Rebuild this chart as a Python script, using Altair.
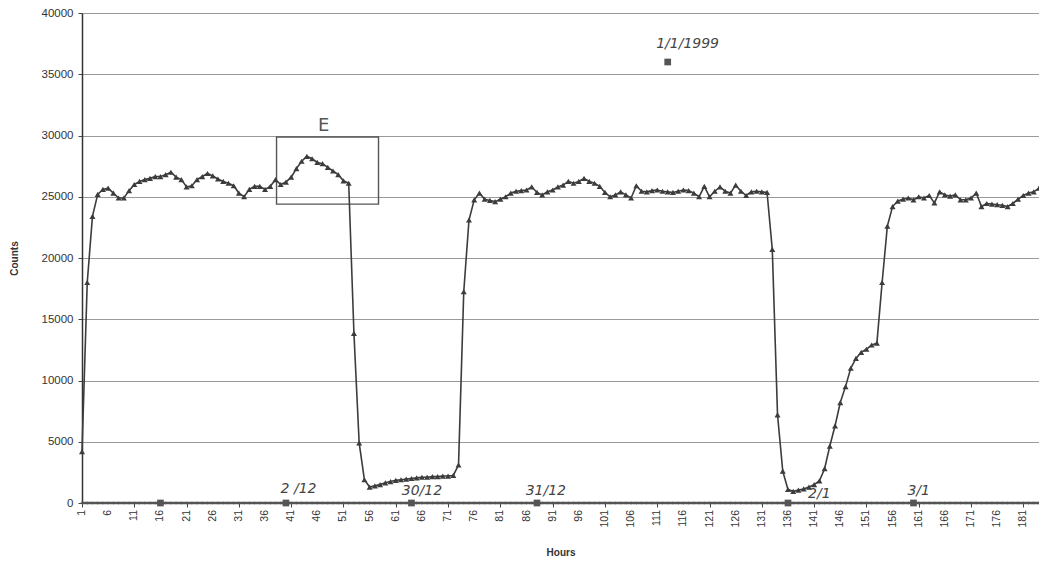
import altair as alt
import pandas as pd

# ---- data ----
hours = list(range(1, 185))
counts = [
    4200, 18000, 23400, 25200, 25600, 25700, 25300, 24900, 24900, 25500,   # 1-10
    26000, 26250, 26400, 26500, 26650, 26650, 26800, 27000, 26600, 26400,  # 11-20
    25800, 25900, 26400, 26650, 26900, 26700, 26450, 26250, 26100, 25900,  # 21-30
    25300, 25000, 25600, 25850, 25850, 25600, 25850, 26400, 26000, 26200,  # 31-40
    26600, 27300, 27900, 28300, 28100, 27800, 27700, 27400, 27100, 26800,  # 41-50
    26300, 26100, 13850, 4900, 1900, 1300, 1400, 1500, 1650, 1750,        # 51-60
    1850, 1900, 1950, 2000, 2050, 2100, 2100, 2150, 2150, 2200,            # 61-70
    2200, 2250, 3100, 17250, 23100, 24750, 25300, 24800, 24700, 24600,     # 71-80
    24800, 25000, 25300, 25450, 25500, 25550, 25800, 25350, 25150, 25400,  # 81-90
    25550, 25800, 25950, 26250, 26100, 26250, 26500, 26250, 26100, 25850,  # 91-100
    25350, 25000, 25150, 25400, 25150, 24900, 25900, 25450, 25400, 25500,  # 101-110
    25550, 25450, 25400, 25350, 25450, 25550, 25500, 25300, 25000, 25850,  # 111-120
    25000, 25450, 25800, 25450, 25300, 25950, 25450, 25100, 25400, 25450,  # 121-130
    25400, 25350, 20700, 7200, 2600, 1100, 950, 1050, 1150, 1300,          # 131-140
    1500, 1800, 2800, 4650, 6300, 8200, 9500, 11000, 11800, 12300,         # 141-150
    12550, 12900, 13050, 18000, 22600, 24200, 24650, 24800, 24900, 24750,  # 151-160
    25000, 24900, 25100, 24500, 25400, 25150, 25050, 25150, 24750, 24750,  # 161-170
    24900, 25300, 24200, 24450, 24400, 24350, 24300, 24200, 24450, 24800,  # 171-180
    25100, 25300, 25400, 25700,                                            # 181-184
]
tick_hours = list(range(1, 182, 5))
tick_labels = [str(h) for h in tick_hours]
y_ticks = [0, 5000, 10000, 15000, 20000, 25000, 30000, 35000, 40000]

day_hours = [16, 40, 64, 88, 113, 136, 160]
day_values = [0, 0, 0, 0, 36000, 0, 0]

note_text = ["2 /12", "30/12", "31/12", "1/1/1999", "2/1", "3/1"]
note_hour = [42.4, 66, 89.7, 116.8, 142, 161]
note_value = [1150, 1000, 1000, 37500, 700, 1000]

box_h1, box_h2 = [38.2], [57.7]
box_v1, box_v2 = [24400], [29880]
e_text, e_hour, e_value = ["E"], [47.2], [30800]

# ---- tables ----
main_df = pd.DataFrame({"Hours": hours, "Counts": counts})
zero_df = pd.DataFrame({"Hours": hours, "Counts": [0] * len(hours)})
day_df = pd.DataFrame({"Hours": day_hours, "Counts": day_values})
note_df = pd.DataFrame({"t": note_text, "Hours": note_hour, "Counts": note_value})
box_df = pd.DataFrame({"h1": box_h1, "h2": box_h2, "v1": box_v1, "v2": box_v2})
e_df = pd.DataFrame({"t": e_text, "Hours": e_hour, "Counts": e_value})
tick_df = pd.DataFrame({"Hours": tick_hours, "lab": tick_labels})

xscale = alt.Scale(domain=[1, 184], nice=False, zero=False)
yscale = alt.Scale(domain=[0, 40000], nice=False)

x_enc = alt.X("Hours:Q", scale=xscale,
              axis=alt.Axis(values=tick_hours, labels=False, title="Hours",
                            grid=False,
                            titleFontSize=10, titleFontWeight="bold",
                            titleColor="#333", tickColor="#444",
                            domainColor="#333", tickSize=4, titlePadding=40,
                            titleFont="Liberation Sans"))
y_enc = alt.Y("Counts:Q", scale=yscale,
              axis=alt.Axis(values=y_ticks, format="d", title="Counts",
                            grid=True, gridColor="#9a9a9a", gridWidth=1,
                            labelFontSize=11.5, labelColor="#333",
                            labelFlush=False,
                            titleFontSize=10, titleFontWeight="bold",
                            titleColor="#333", tickColor="#444",
                            domainColor="#333", domainWidth=1.5, tickSize=4,
                            labelPadding=5, titlePadding=22,
                            labelFont="Liberation Sans", titleFont="Liberation Sans"))

main = alt.Chart(main_df).mark_line(
    color="#3c3c3c", strokeWidth=1.6,
    point=alt.OverlayMarkDef(shape="triangle-up", filled=True, size=36, color="#3c3c3c"),
).encode(x=x_enc, y=y_enc)

zero = alt.Chart(zero_df).mark_line(
    color="#555", strokeWidth=2.4, clip=False,
    point=alt.OverlayMarkDef(shape="diamond", filled=True, size=10, color="#555"),
).encode(x="Hours:Q", y="Counts:Q")

days = alt.Chart(day_df).mark_point(
    shape="square", filled=True, size=45, color="#555", opacity=1, clip=False
).encode(x="Hours:Q", y="Counts:Q")

ticklabs = alt.Chart(tick_df).mark_text(
    angle=270, align="right", baseline="middle", fontSize=10.5,
    font="Liberation Sans", color="#333", clip=False
).encode(x="Hours:Q", y=alt.value(497), text="lab:N")

notes = alt.Chart(note_df).mark_text(
    fontSize=14, color="#444", font="DejaVu Sans", fontStyle="italic"
).encode(x="Hours:Q", y="Counts:Q", text="t:N")

box = alt.Chart(box_df).mark_rect(
    fillOpacity=0, stroke="#555", strokeWidth=1.4
).encode(x="h1:Q", x2="h2", y="v1:Q", y2="v2")

e_lab = alt.Chart(e_df).mark_text(
    fontSize=18, color="#555", font="DejaVu Sans"
).encode(x="Hours:Q", y="Counts:Q", text="t:N")

chart = alt.layer(box, main, zero, days, ticklabs, notes, e_lab).properties(
    width=957, height=490,
    autosize=alt.AutoSizeParams(type="none"),
    padding={"left": 74, "top": 5, "right": 0, "bottom": 55},
).configure_view(stroke="#444", strokeWidth=1.2).configure(background="white")

chart.save("out.html", embed_options={"renderer": "svg", "actions": False})
